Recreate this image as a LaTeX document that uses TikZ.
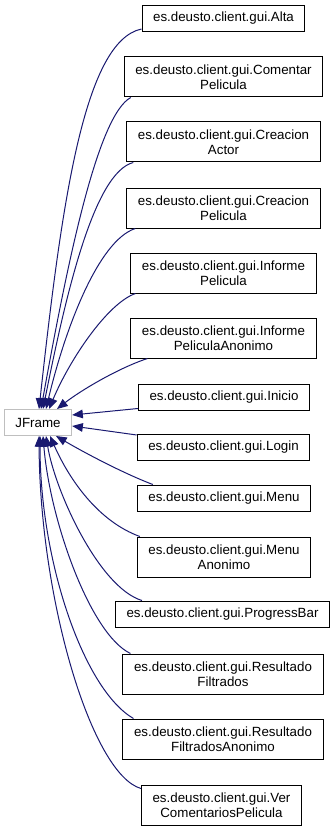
\documentclass[tikz,border=0pt]{standalone}
\usepackage{fontspec}
\setmainfont{Liberation Sans}
\usetikzlibrary{arrows.meta,calc}
\definecolor{edgeblue}{RGB}{25,25,112}
\definecolor{basegray}{RGB}{191,191,191}

\begin{document}
\begin{tikzpicture}[x=0.75pt,y=0.75pt,
  cls/.style={draw=black,line width=0.75pt,fill=white,
    font=\fontsize{10}{11.5}\selectfont,align=center,
    inner xsep=8.3pt,inner ysep=0pt,minimum height=19.5pt},
  cls2/.style={cls,minimum height=30pt},
  base/.style={cls,draw=basegray},
  inh/.style={draw=edgeblue,line width=0.75pt,
    -{Triangle[length=8pt,width=6.5pt]}}]
  \useasboundingbox (0,0) rectangle (335,-831);
  % base class
  \node[base] (jf) at (38,-422.5) {JFrame};
  % subclasses
  \node[cls]  (alta)          at (223.5,-18.5) {es.deusto.client.gui.Alta};
  \node[cls2] (comentar)      at (223.5,-77)   {es.deusto.client.gui.Comentar\\Pelicula};
  \node[cls2] (actor)         at (223.5,-142)  {es.deusto.client.gui.Creacion\\Actor};
  \node[cls2] (creaPeli)      at (223.5,-208)  {es.deusto.client.gui.Creacion\\Pelicula};
  \node[cls2] (informe)       at (223.5,-273)  {es.deusto.client.gui.Informe\\Pelicula};
  \node[cls2] (informeAnon)   at (223.5,-338)  {es.deusto.client.gui.Informe\\PeliculaAnonimo};
  \node[cls]  (inicio)        at (224,-397)    {es.deusto.client.gui.Inicio};
  \node[cls]  (login)         at (223.5,-447.5){es.deusto.client.gui.Login};
  \node[cls]  (menu)          at (224,-498)    {es.deusto.client.gui.Menu};
  \node[cls2] (menuAnon)      at (224,-557)    {es.deusto.client.gui.Menu\\Anonimo};
  \node[cls]  (progress)      at (222.5,-614)  {es.deusto.client.gui.ProgressBar};
  \node[cls2] (resultado)     at (223,-674)    {es.deusto.client.gui.Resultado\\Filtrados};
  \node[cls2] (resultadoAnon) at (223,-739)    {es.deusto.client.gui.Resultado\\FiltradosAnonimo};
  \node[cls2] (verComent)     at (221.5,-805)  {es.deusto.client.gui.Ver\\ComentariosPelicula};
  % edges into the top of JFrame
  \draw[inh] ($(alta.south west)+(0,3)$) .. controls +(-57,-12) and +(23,210) .. ($(jf.north)+(1,0)$);
  \draw[inh] ($(comentar.south west)+(7,0)$) .. controls +(-33,-18) and +(27,150) .. ($(jf.north)+(3,0)$);
  \draw[inh] ($(actor.south west)+(7,0)$) .. controls +(-40,-10) and +(22,110) .. ($(jf.north)+(5,0)$);
  \draw[inh] ($(creaPeli.south west)+(9,0)$) .. controls +(-37,-12) and +(19,80) .. ($(jf.north)+(8,0)$);
  \draw[inh] ($(informe.south west)+(5,0)$) .. controls +(-28,-10) and +(21,50) .. ($(jf.north)+(11,0)$);
  \draw[inh] ($(informeAnon.south west)+(17,0)$) .. controls +(-30,-10) and +(23,18) .. ($(jf.north)+(19,0)$);
  % edges into the side
  \draw[inh] ($(inicio.south west)+(0,2)$) -- ($(jf.east)+(0,7.5)$);
  \draw[inh] ($(login.north west)+(0,-1)$) -- ($(jf.east)+(0,-3.5)$);
  % edges into the bottom
  \draw[inh] ($(menu.north west)+(16,0)$) .. controls +(-29,11) and +(29,-17) .. ($(jf.south)+(18,0)$);
  \draw[inh] ($(menuAnon.north west)+(3,0)$) .. controls +(-41,15) and +(20,-45) .. ($(jf.south)+(12,0)$);
  \draw[inh] ($(progress.north west)+(27,0)$) .. controls +(-43,13) and +(9,-55) .. ($(jf.south)+(8,0)$);
  \draw[inh] ($(resultado.north west)+(8,0)$) .. controls +(-40,19) and +(7,-85) .. ($(jf.south)+(5,0)$);
  \draw[inh] ($(resultadoAnon.north west)+(11,0)$) .. controls +(-50,29) and +(0,-125) .. ($(jf.south)+(2,0)$);
  \draw[inh] ($(verComent.north west)+(0,-4)$) .. controls +(-49,14) and +(1,-165) .. ($(jf.south)+(1,0)$);
\end{tikzpicture}
\end{document}
